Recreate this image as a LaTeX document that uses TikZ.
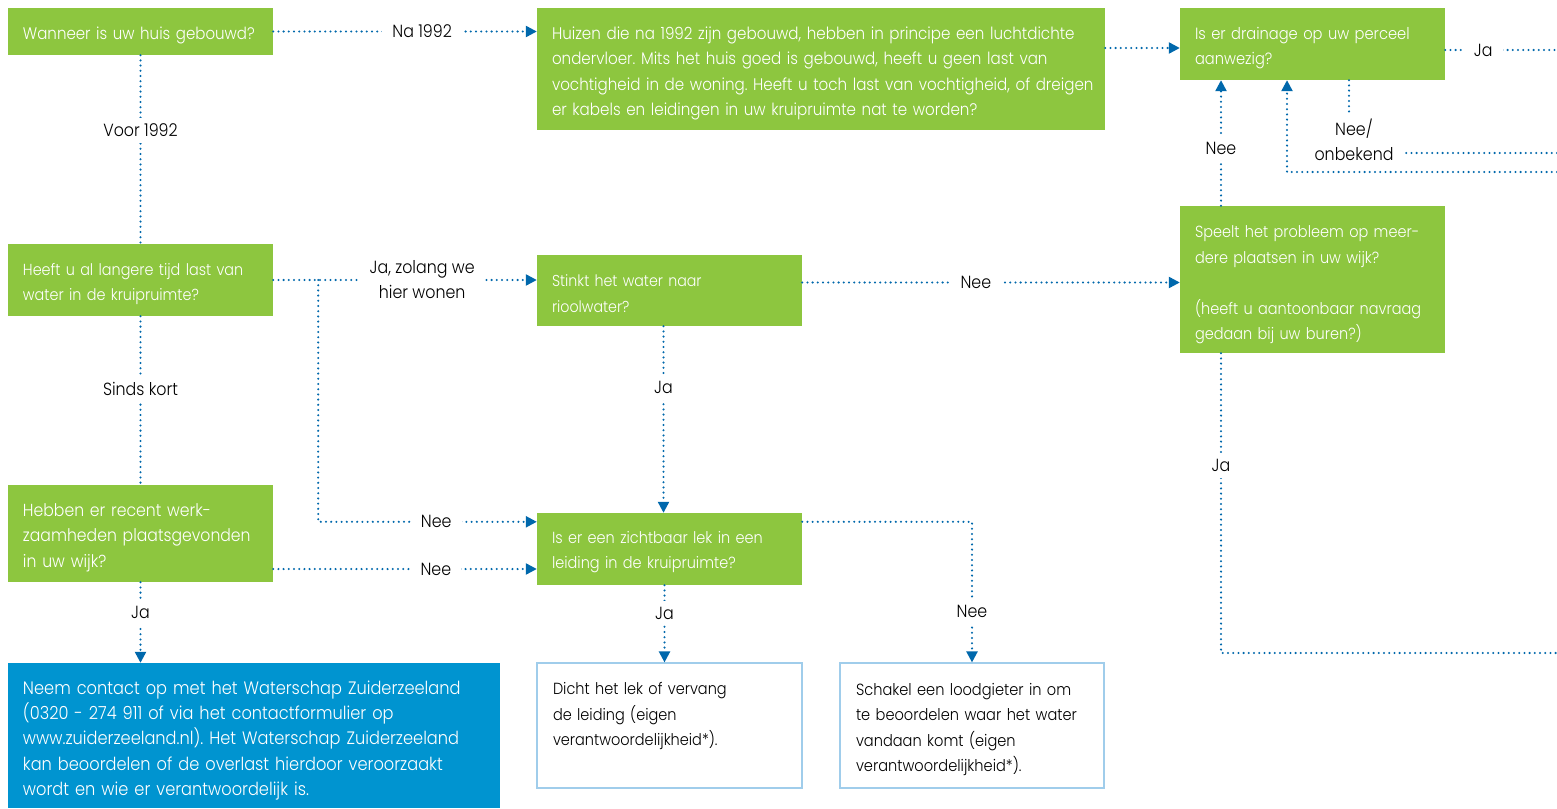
\documentclass[tikz,border=0pt]{standalone}
\usepackage{fontspec}
\setmainfont{Poppins Light}[FakeStretch=0.9]
\usetikzlibrary{arrows.meta,calc}
\definecolor{grn}{RGB}{141,198,63}
\definecolor{blu}{RGB}{0,148,208}
\definecolor{conncol}{RGB}{0,104,172}
\definecolor{lbord}{RGB}{160,205,235}
\tikzset{
  qbox/.style={fill=grn, inner sep=0pt, anchor=center},
  abox/.style={fill=white, draw=lbord, line width=1.2pt, inner sep=0pt, anchor=center},
  bbox/.style={fill=blu, inner sep=0pt, anchor=center},
  wtxt/.style={text=white, inner sep=0pt, align=left, anchor=center},
  ktxt/.style={text=black, inner sep=0pt, align=left, anchor=center},
  cl/.style={draw=conncol, line width=2.3pt, dash pattern=on 0pt off 5.2pt, line cap=round},
  ca/.style={cl, -{Triangle[length=11pt,width=11pt]}},
  lbl/.style={fill=white, text=black, inner xsep=10pt, inner ysep=6pt, align=center, font=\fontsize{17.6}{25}\selectfont},
}
\newcommand{\fs}[1]{\fontsize{#1}{25.5}\selectfont}
\frenchspacing
\begin{document}
\frenchspacing
\begin{tikzpicture}[x=1pt,y=-1pt]
\useasboundingbox[fill=white] (0,0) rectangle (1557,808);
% boxes
\node[qbox, minimum width=265pt, minimum height=47pt] (A) at (140.5,31.5) {};
\node[wtxt, text width=235pt, font=\fs{16.7}] (At) at ($(A.center)+(0,4)$) {Wanneer is uw huis gebouwd?};
\node[qbox, minimum width=568pt, minimum height=122pt] (B) at (821,69) {};
\node[wtxt, text width=560pt, font=\fs{16.8}] (Bt) at ($(B.center)+(11,4.5)$) {Huizen die na 1992 zijn gebouwd, hebben in principe een luchtdichte\\ondervloer. Mits het huis goed is gebouwd, heeft u geen last van\\vochtigheid in de woning. Heeft u toch last van vochtigheid, of dreigen\\er kabels en leidingen in uw kruipruimte nat te worden?};
\node[qbox, minimum width=265pt, minimum height=72pt] (C) at (1312.5,44) {};
\node[wtxt, text width=235pt, font=\fs{16.3}] (Ct) at ($(C.center)+(0,4)$) {Is er drainage op uw perceel\\aanwezig?};
\node[qbox, minimum width=265pt, minimum height=72pt] (D) at (140.5,280) {};
\node[wtxt, text width=235pt, font=\fs{16}] (Dt) at ($(D.center)+(0,4)$) {Heeft u al langere tijd last van\\water in de kruipruimte?};
\node[qbox, minimum width=265pt, minimum height=71pt] (E) at (669.5,290.5) {};
\node[wtxt, text width=235pt, font=\fs{15.8}] (Et) at ($(E.center)+(0,3)$) {Stinkt het water naar\\rioolwater?};
\node[qbox, minimum width=265pt, minimum height=147pt] (F) at (1312.5,279.5) {};
\node[wtxt, text width=235pt, font=\fs{16.1}] (Ft) at ($(F.center)+(0,5.5)$) {Speelt het probleem op meer-\\dere plaatsen in uw wijk?\\[25.5pt](heeft u aantoonbaar navraag\\gedaan bij uw buren?)};
\node[qbox, minimum width=265pt, minimum height=97pt] (G) at (140.5,533.5) {};
\node[wtxt, text width=235pt, font=\fs{17.4}] (Gt) at ($(G.center)+(0,4)$) {Hebben er recent werk-\\zaamheden plaatsgevonden\\in uw wijk?};
\node[qbox, minimum width=265pt, minimum height=72pt] (H) at (669.5,549) {};
\node[wtxt, text width=235pt, font=\fs{16.1}] (Ht) at ($(H.center)+(0,3)$) {Is er een zichtbaar lek in een\\leiding in de kruipruimte?};
\node[bbox, minimum width=492pt, minimum height=145pt] (I) at (254,735.5) {};
\node[wtxt, text width=462pt, font=\fontsize{18}{25.2}\selectfont] (It) at ($(I.center)+(0,5)$) {Neem contact op met het Waterschap Zuiderzeeland\\(0320 - 274 911 of via het contactformulier op\\www.zuiderzeeland.nl). Het Waterschap Zuiderzeeland\\kan beoordelen of de overlast hierdoor veroorzaakt\\wordt en wie er verantwoordelijk is.};
\node[abox, minimum width=265pt, minimum height=125pt] (J) at (669.5,725.5) {};
\node[ktxt, text width=233pt, font=\fs{16.1}] (Jt) at ($(J.center)+(0,5)$) {Dicht het lek of vervang\\de leiding (eigen\\verantwoordelijkheid*).\\\strut};
\node[abox, minimum width=264pt, minimum height=125pt] (K) at (972,725.5) {};
\node[ktxt, text width=232pt, font=\fs{16.2}] (Kt) at ($(K.center)+(0,4)$) {Schakel een loodgieter in om\\te beoordelen waar het water\\vandaan komt (eigen\\verantwoordelijkheid*).};
% helper coordinates
\coordinate (eR) at (1557,0);
\coordinate (eR1) at (1557,153);
\coordinate (eR2) at (1557,172);
\coordinate (eR3) at (1557,653);
\coordinate (d1) at ($(D.east)+(45,0)$);
\coordinate (h1) at ($(H.north west)+(0,9)$);
\coordinate (g1) at ($(G.east)+(0,35.5)$);
\coordinate (e1) at ($(E.east)+(0,-8)$);
\coordinate (e2) at ($(E.south)+(-6,0)$);
\coordinate (h2) at ($(H.north)+(-6,0)$);
\coordinate (c1) at ($(C.west)+(0,4)$);
\coordinate (c2) at ($(C.east)+(0,6)$);
\coordinate (c3) at ($(C.south)+(36.5,0)$);
\coordinate (c4) at ($(C.south)+(-25.5,0)$);
\coordinate (c5) at ($(C.south)+(-91.5,0)$);
\coordinate (f1) at ($(F.north)+(-91.5,0)$);
\coordinate (f2) at ($(F.south)+(-91.5,0)$);
\coordinate (h3) at ($(H.south)+(-5,0)$);
\coordinate (j1) at ($(J.north)+(-5,0)$);
\coordinate (h4) at ($(H.north east)+(0,9)$);
% connectors
\draw[ca] (A.east) -- node[lbl,pos=0.565]{Na 1992} (A.east -| B.west);
\draw[cl] (A.south) -- node[lbl,pos=0.4]{Voor 1992} (D.north);
\draw[ca] (D.east) -- node[lbl,pos=0.565]{Ja, zolang we\\hier wonen} (D.east -| E.west);
\draw[ca] (d1) |- node[lbl,pos=0.77]{Nee} (h1);
\draw[cl] (D.south) -- node[lbl,pos=0.43]{Sinds kort} (G.north);
\draw[ca] (g1) -- node[lbl,pos=0.617]{Nee} (g1 -| H.west);
\draw[ca] (G.south) -- node[lbl,pos=0.38]{Ja} (G.south |- I.north);
\draw[ca] (e1) -- node[lbl,pos=0.46]{Nee} (e1 -| F.west);
\draw[ca] (e2) -- node[lbl,pos=0.33]{Ja} (h2);
\draw[ca] (B.east |- c1) -- (c1);
\draw[cl] (c2) -- node[lbl,pos=0.34]{Ja} (c2 -| eR);
\draw[cl] (c3) |- node[lbl,pos=0.5,xshift=5pt,yshift=13pt]{Nee/\\onbekend} (eR1);
\draw[ca] (eR2) -| (c4);
\draw[ca] (f1) -- node[lbl,pos=0.46]{Nee} (c5);
\draw[cl] (f2) |- node[lbl,pos=0.187]{Ja} (eR3);
\draw[ca] (h3) -- node[lbl,pos=0.36]{Ja} (j1);
\draw[ca] (h4) -| node[lbl,pos=0.82]{Nee} (K.north);
\end{tikzpicture}
\end{document}
